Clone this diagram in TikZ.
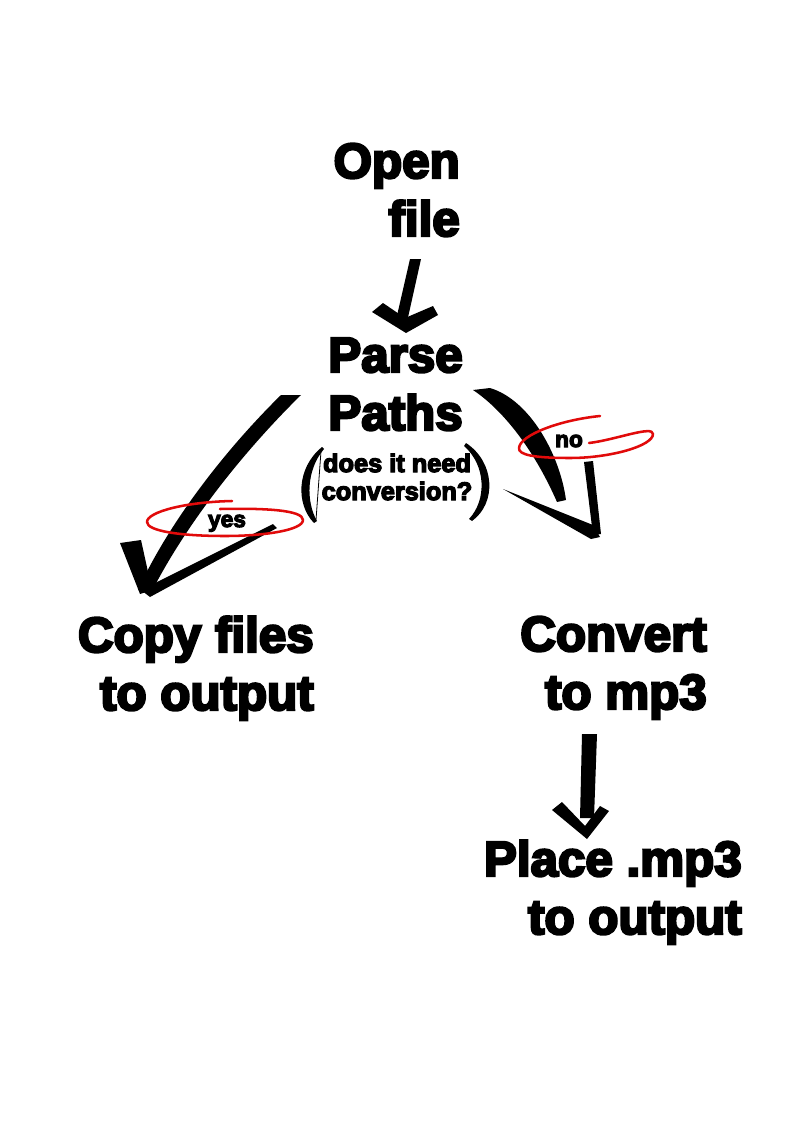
\documentclass[tikz,border=0pt]{standalone}
\usepackage{fontspec}
\newfontfamily\heavyfont{Liberation Sans}[BoldFeatures={FakeBold=5}]
\newcommand\stackR[2]{\vtop{\baselineskip=#1\lineskiplimit=-\maxdimen\halign{\hfil##\cr#2\crcr}}}
\newcommand\stackC[2]{\vtop{\baselineskip=#1\lineskiplimit=-\maxdimen\halign{\hfil##\hfil\cr#2\crcr}}}
\definecolor{loopred}{RGB}{225,10,10}
\begin{document}
\begin{tikzpicture}[x=0.75pt,y=-0.75pt,
  big/.style={inner sep=0pt, anchor=base east, font={\heavyfont\bfseries\fontsize{37}{43.5}\selectfont}},
  mid/.style={inner sep=0pt, anchor=base, font={\heavyfont\bfseries\fontsize{19}{17}\selectfont}},
  tag/.style={inner sep=0pt, anchor=base, font={\heavyfont\bfseries\fontsize{17}{17}\selectfont}},
  ink/.style={fill=black, draw=none},
  loop/.style={draw=loopred, line width=1.9pt, line cap=round, line join=round}]
\useasboundingbox[fill=white] (0,0) rectangle (794,1123);

% text blocks
\node[big] (open) at (460,178) {\stackR{43.5pt}{Open\cr file}};
\node[big] (parse) at (463,372) {\stackR{43.5pt}{Parse\cr Paths}};
\node[mid] (question) at (397,472) {\stackC{21pt}{does it need\cr conversion?}};
\node[big] (copy) at (314,652) {\stackR{43.5pt}{Copy files\cr to output}};
\node[big] (convert) at (707,651) {\stackR{43.5pt}{Convert\cr to mp3}};
\node[big] (place) at (742,876) {\stackR{43.5pt}{Place .mp3\cr to output}};
\node[tag] (yes) at (227,527) {yes};
\node[tag] (no) at (569,447) {no};

% arrow: open file -> parse paths
\fill[ink] (410,259) -- (421,259) -- (407,322) -- (396,320) -- cycle;
\fill[ink] (372,312) -- (383,303) -- (405,318) -- (433,306) -- (438,315) -- (406,333) -- cycle;

% arrow: parse -> copy (yes)
\fill[ink] (281,395) .. controls (228,447) and (170,520) .. (138,590)
  -- (151,593) .. controls (188,520) and (248,447) .. (301,395) -- cycle;
\fill[ink] (120,543) -- (141,540) -- (152,590) -- (140,594) -- cycle;
\fill[ink] (141,590) -- (273,524) -- (277,528) -- (150,597) -- cycle;

% arrow: parse -> convert (no)
\fill[ink] (473,390) .. controls (500,408) and (532,445) .. (557,502)
  -- (566,500) .. controls (560,455) and (530,400) .. (490,388) -- cycle;
\fill[ink] (584,462) -- (593,461) -- (601,534) -- (593,535) -- cycle;
\fill[ink] (503,489) -- (593,525) -- (600,537) -- (591,539) -- cycle;

% arrow: convert -> place
\fill[ink] (582,734) -- (597,734) -- (594,818) -- (580,818) -- cycle;
\fill[ink] (552,810) -- (562,802) -- (585,826) -- (600,806) -- (609,811) -- (587,839) -- cycle;

% parentheses around the question
\fill[ink] (322,447) .. controls (296,468) and (296,505) .. (314,523)
  -- (317,521) .. controls (306,502) and (306,470) .. (324,449) -- cycle;
\draw[line width=0.6pt] (321,451) -- (316,520);
\fill[ink] (466,443) .. controls (495,462) and (497,503) .. (472,521)
  -- (469,519) .. controls (487,500) and (486,465) .. (464,446) -- cycle;

% red loops
\draw[loop] (220,509) .. controls (265,508) and (303,510) .. (303,520)
  .. controls (303,530) and (265,536) .. (225,536)
  .. controls (180,536) and (147,531) .. (147,522)
  .. controls (147,512) and (185,502) .. (232,501);
\draw[loop] (589,443) .. controls (615,440) and (653,425) .. (653,434)
  .. controls (653,446) and (610,458) .. (570,458)
  .. controls (535,458) and (518,455) .. (519,448)
  .. controls (520,435) and (560,420) .. (600,416);
\end{tikzpicture}
\end{document}
